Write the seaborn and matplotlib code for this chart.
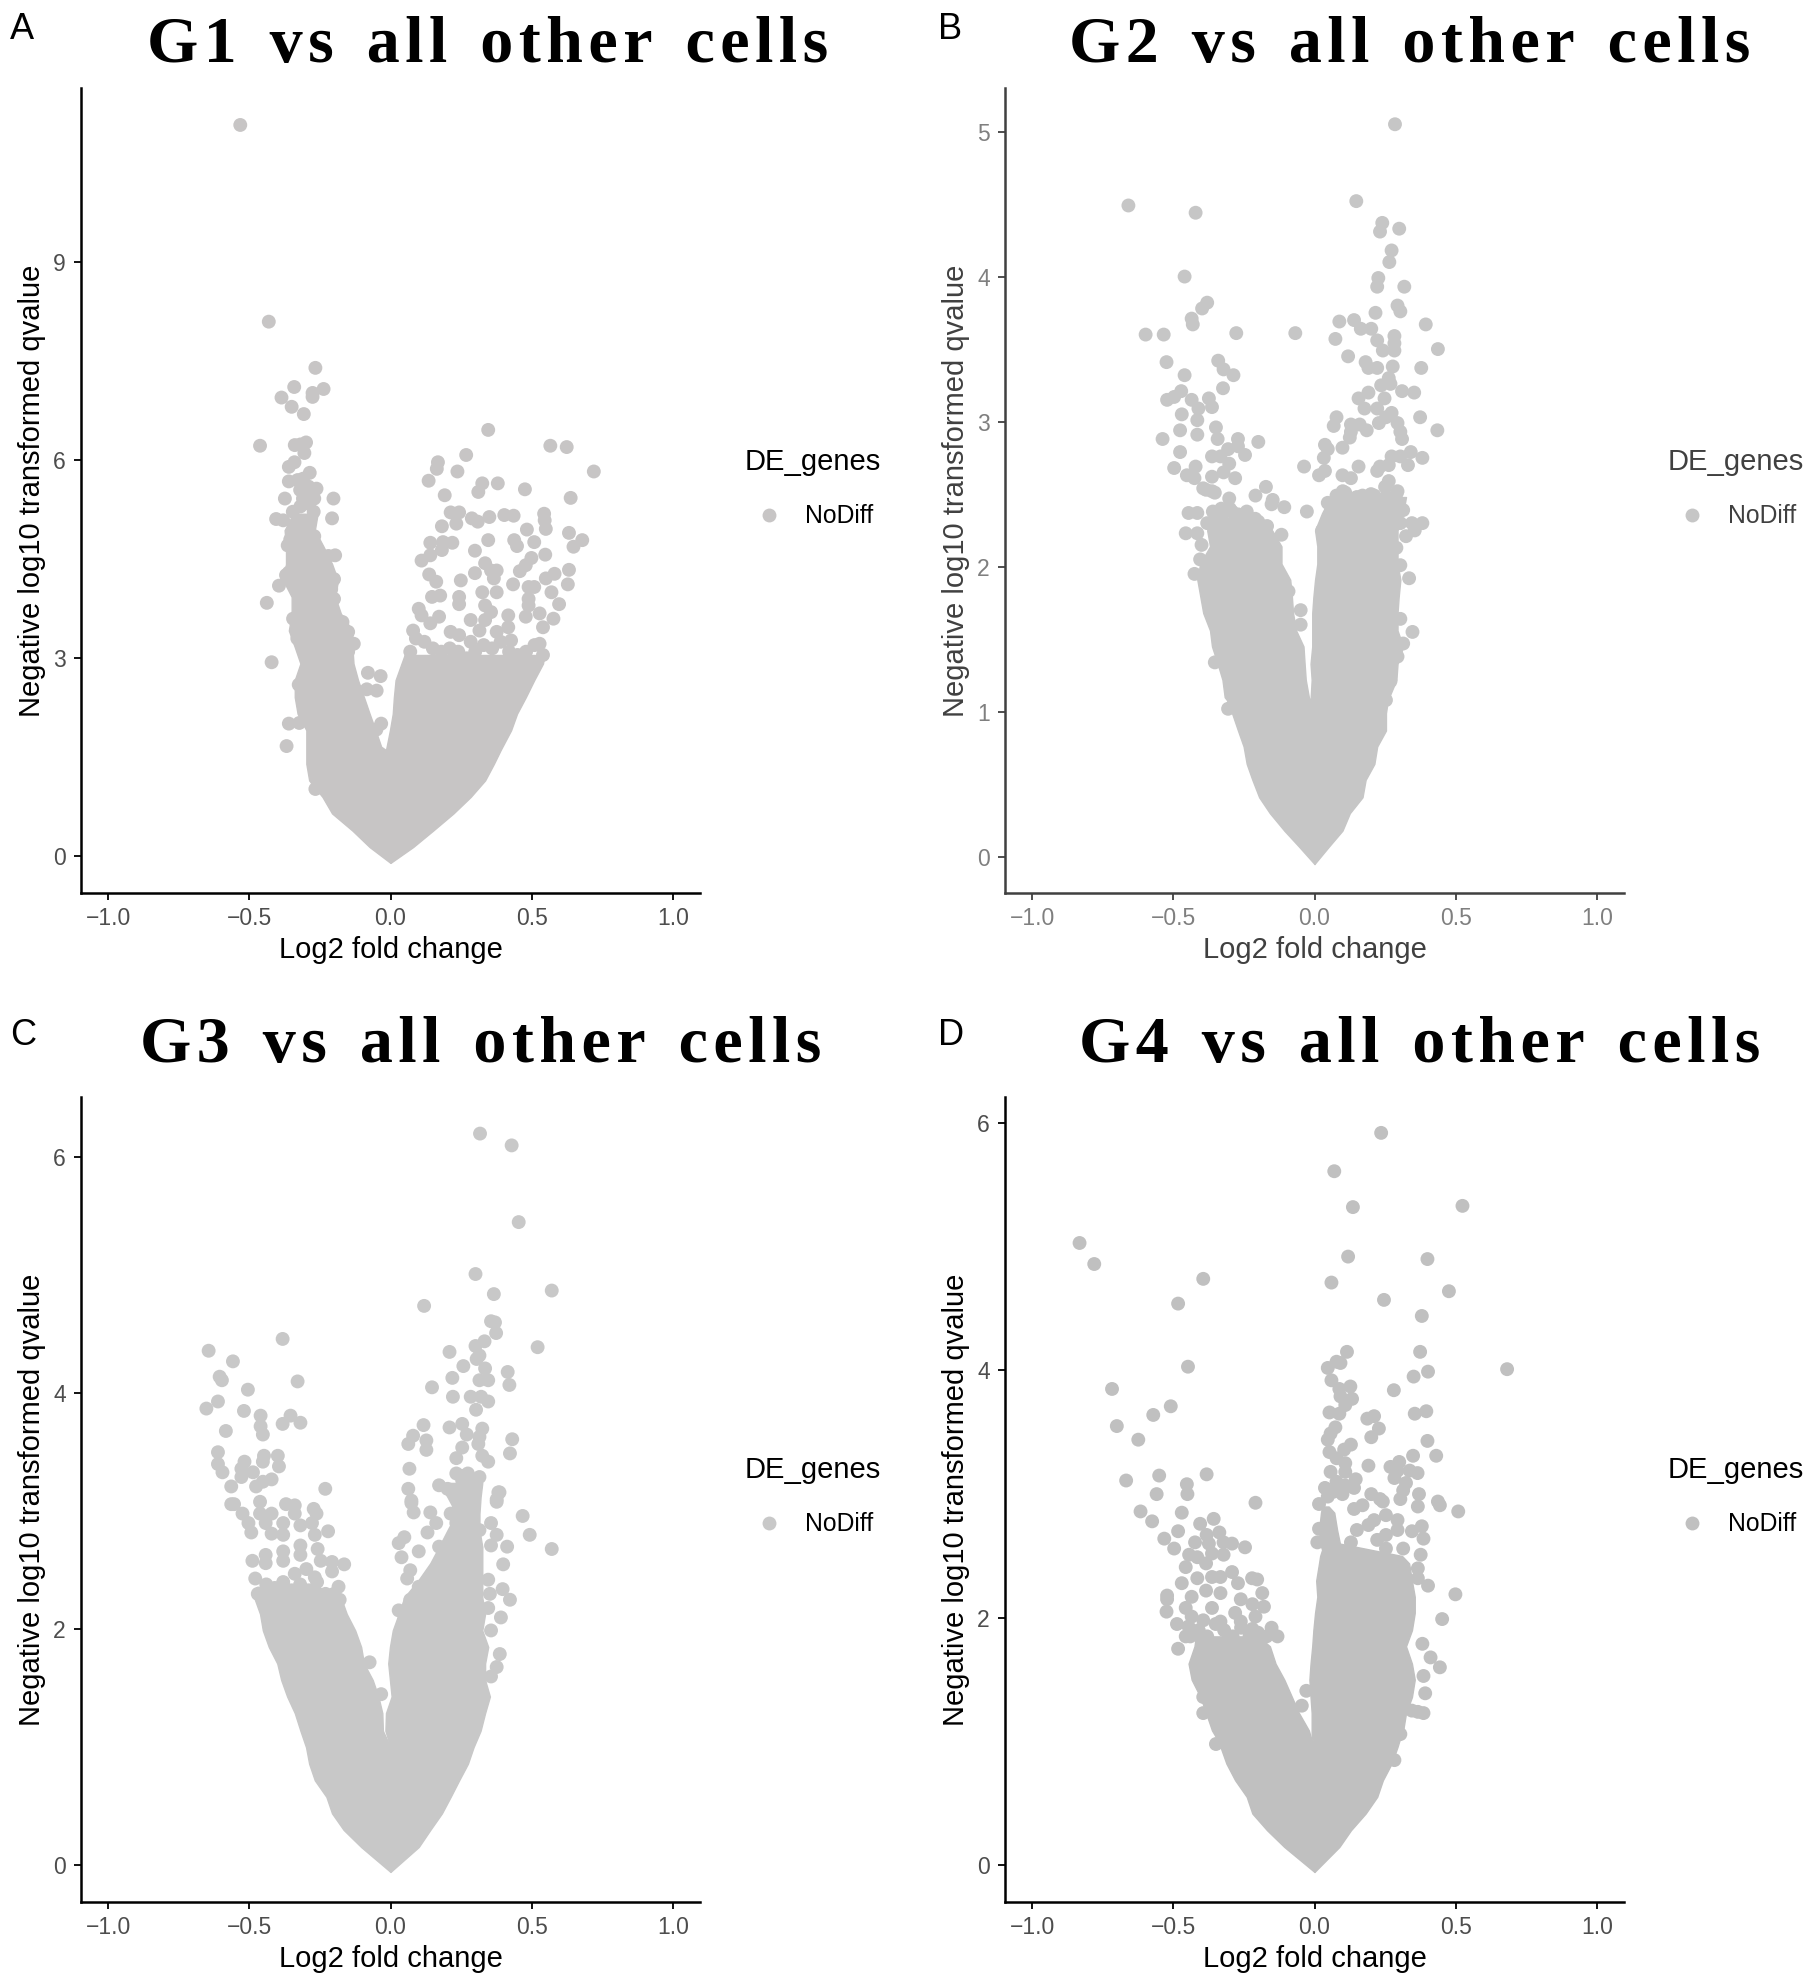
import pandas as pd
import matplotlib
matplotlib.use('Agg')
import matplotlib.pyplot as plt
import seaborn as sns

# scattered genes: (log2 fold change, -log10 qvalue)
g1_points = [(-.532,11.08),(-.431,8.10),(-.266,7.40),(-.341,7.11),(-.237,7.08),(-.386,6.95),(-.276,6.96),(-.276,7.02),(-.35,6.81),(-.307,6.70),
 (.346,6.46),(-.462,6.22),(-.339,6.23),(-.319,6.24),(-.299,6.27),(-.305,6.11),(.566,6.22),(.624,6.20),(.268,6.08),(.168,5.97),(.164,5.87),
 (.237,5.83),(.72,5.83),(.135,5.69),(.325,5.65),(.38,5.65),(.476,5.56),(.311,5.52),(.192,5.47),(.638,5.43),(-.36,5.90),(-.34,5.97),(-.286,5.81),
 (-.36,5.68),(-.329,5.70),(-.31,5.72),(-.262,5.57),(-.202,5.42),(-.374,5.42),(-.3,5.5),(-.28,5.5),(-.32,5.55),(-.29,5.6),(-.31,5.42),(-.27,5.42),
 (-.207,5.12),(-.346,5.22),(-.405,5.11),(-.38,5.09),(-.272,5.22),(-.319,5.3),(-.288,5.34),(-.33,5.05),(-.3,5.0),(-.31,4.9),(-.27,4.85),
 (-.364,4.71),(-.196,4.56),(-.22,4.55),(-.25,4.5),(-.37,4.26),(-.395,4.10),(-.438,3.84),(-.421,2.94),(-.36,2.01),(-.323,2.02),(-.368,1.67),(-.266,1.02),
 (-.08,2.78),(-.035,2.73),(-.084,2.53),(-.049,2.51),(-.033,2.01),(-.05,1.92),(-.2,4.2),(-.21,4.05),(-.2,3.9),(-.23,3.8),(-.17,3.55),(-.15,3.4),(-.13,3.22),(-.15,3.1),
 (.213,5.21),(.243,5.21),(.288,5.12),(.309,5.07),(.35,5.14),(.403,5.17),(.436,5.16),(.544,5.19),(.546,5.09),(.55,4.96),(.483,4.95),(.182,5.0),(.233,5.04),
 (.632,4.90),(.679,4.79),(.648,4.69),(.141,4.75),(.219,4.75),(.186,4.76),(.182,4.64),(.346,4.79),(.438,4.79),(.448,4.70),(.509,4.76),(.299,4.63),(.548,4.57),
 (.499,4.52),(.141,4.56),(.11,4.48),(.479,4.41),(.458,4.32),(.335,4.44),(.299,4.29),(.356,4.33),(.376,4.33),(.366,4.21),(.137,4.27),(.162,4.16),(.249,4.18),
 (.632,4.34),(.581,4.28),(.55,4.21),(.628,4.12),(.434,4.12),(.489,4.08),(.509,4.08),(.57,4.0),(.325,4.0),(.376,4.0),(.147,3.93),(.176,3.95),(.243,3.93),
 (.243,3.82),(.489,3.9),(.489,3.8),(.597,3.82),(.1,3.75),(.335,3.8),(.356,3.7),(.417,3.65),(.479,3.63),(.528,3.68),(.577,3.6),(.54,3.47),(.11,3.65),(.172,3.63),
 (.141,3.53),(.284,3.58),(.335,3.58),(.417,3.47),(.376,3.4),(.315,3.42),(.08,3.42),(.213,3.4),(.243,3.35),(.427,3.27),(.528,3.22),(.284,3.25),
 (.07,3.1),(.09,3.3),(.12,3.25),(.15,3.15),(.18,3.1),(.21,3.15),(.24,3.1),(.27,3.0),(.3,3.1),(.33,3.2),(.36,3.15),(.39,3.25),(.42,3.1),(.45,3.05),(.48,3.1),(.51,3.2),(.54,3.05),
 (-.325,2.6),(-.33,3.3),(-.345,3.6),(-.36,4.3),(-.355,4.8),(-.33,5.0),(-.25,4.3),(-.24,4.0)]

g2_points = [(.285,5.05),(-.659,4.49),(-.421,4.44),(.148,4.52),(.24,4.37),(.232,4.31),(.3,4.33),(.273,4.18),(.265,4.10),(.226,3.99),(.222,3.93),(.318,3.93),
 (-.46,4.0),(-.38,3.82),(-.398,3.78),(-.435,3.71),(-.431,3.67),(.294,3.80),(.304,3.76),(.216,3.75),(.14,3.70),(.088,3.69),(.394,3.67),(.164,3.64),(.201,3.64),
 (-.598,3.60),(-.534,3.60),(-.277,3.61),(-.068,3.61),(.074,3.57),(.283,3.59),(.222,3.56),(.283,3.54),(.242,3.49),(.283,3.49),(.437,3.50),(.119,3.45),(-.524,3.41),
 (-.341,3.42),(-.322,3.36),(-.287,3.32),(-.46,3.32),(.181,3.41),(.191,3.37),(.222,3.37),(.277,3.38),(.378,3.37),(.263,3.30),(.236,3.25),(.269,3.26),(-.324,3.23),
 (.31,3.21),(.191,3.2),(.353,3.2),(-.472,3.21),(-.497,3.17),(-.522,3.15),(-.435,3.15),(-.374,3.16),(-.363,3.10),(-.411,3.09),(-.47,3.05),(-.415,3.01),(.156,3.16),
 (.248,3.16),(.222,3.09),(.177,3.09),(.273,3.06),(.253,3.03),(.078,3.03),(.374,3.03),(.228,2.99),(.068,2.97),(.129,2.98),(.16,2.98),(.294,2.99),(.185,2.94),
 (.129,2.93),(.304,2.93),(.435,2.94),(-.476,2.94),(-.349,2.96),(-.538,2.88),(-.415,2.91),(-.343,2.88),(-.271,2.88),(-.199,2.86),(.31,2.88),(.125,2.89),(.099,2.82),
 (.037,2.84),(.047,2.81),(-.476,2.79),(-.363,2.76),(-.333,2.76),(-.306,2.81),(-.246,2.77),(-.271,2.83),(-.302,2.71),(.273,2.76),(.304,2.76),(.341,2.79),(.382,2.75),
 (.331,2.70),(.033,2.75),(-.037,2.69),(-.497,2.68),(-.421,2.69),(.156,2.69),(.232,2.69),(.263,2.7),(.037,2.66),(.016,2.63),(-.452,2.63),(-.363,2.62),(-.322,2.65),
 (-.281,2.61),(.099,2.63),(.129,2.61),(.222,2.66),(.263,2.59),(-.172,2.55),(-.209,2.49),(.294,2.52),(-.363,2.52),(-.425,2.61),(-.394,2.54),(-.148,2.46),(-.302,2.47),
 (-.384,2.53),(-.353,2.51),(-.152,2.43),(-.107,2.41),(-.446,2.37),(-.027,2.38),(-.415,2.37),(-.24,2.38),(-.292,2.38),(-.456,2.23),(-.199,2.31),(-.168,2.28),(-.117,2.22),
 (.382,2.3),(.345,2.3),(.355,2.25),(.324,2.21),(.29,2.13),(.304,2.01),(.335,1.92),(-.049,1.7),(-.049,1.6),(.347,1.55),(-.092,1.83),(-.353,1.34),(-.306,1.02),
 (.253,1.08),(.269,1.21),(.294,1.38),(.314,1.47),(.304,1.64),(-.425,1.95),(-.405,2.05),(-.363,2.05),(-.4,2.15),(-.415,2.23),(.253,2.48),(.17,2.49),(.212,2.49),
 (.109,2.51),(.078,2.49),(.047,2.44),(.057,2.37),(.314,2.39),(.304,2.3),(.027,2.25),(-.33,2.4),(-.25,2.3),(-.35,2.3),
 (-.36,2.38),(-.33,2.35),(-.3,2.4),(-.27,2.36),(-.21,2.33),(-.38,2.3),(.1,2.52),(.15,2.48),(.2,2.5),(.25,2.55),(.29,2.5)]

g3_points = [(.317,6.2),(.429,6.1),(.454,5.45),(.301,5.01),(.366,4.84),(.571,4.87),(.119,4.74),(.356,4.61),(.37,4.6),(.374,4.51),(.333,4.44),(.521,4.39),(.301,4.40),
 (-.382,4.46),(-.644,4.36),(.209,4.35),(-.558,4.27),(.315,4.32),(.305,4.29),(.258,4.23),(.335,4.21),(-.605,4.14),(-.597,4.11),(.219,4.13),(.415,4.18),(.421,4.07),
 (-.329,4.10),(.315,4.11),(.346,4.11),(.147,4.05),(-.505,4.03),(-.611,3.93),(-.652,3.87),(.221,3.97),(.284,3.97),(.321,3.97),(.346,3.93),(.303,3.86),(-.519,3.85),
 (-.46,3.81),(-.354,3.81),(-.382,3.74),(-.319,3.75),(-.46,3.72),(-.583,3.68),(-.452,3.65),(.117,3.73),(.209,3.71),(.254,3.74),(.27,3.65),(.325,3.7),(.08,3.64),
 (.127,3.6),(.063,3.57),(.127,3.52),(.431,3.61),(.423,3.49),(.315,3.63),(.311,3.57),(.254,3.54),(.233,3.45),(.325,3.47),(.346,3.42),(-.611,3.5),(-.611,3.4),(-.595,3.33),
 (-.517,3.42),(-.448,3.47),(-.399,3.47),(-.395,3.38),(-.452,3.42),(-.528,3.36),(-.487,3.33),(-.528,3.29),(-.421,3.27),(-.452,3.25),(-.476,3.21),(-.564,3.21),(-.231,3.19),
 (.067,3.36),(.063,3.19),(.386,3.16),(.172,3.22),(.202,3.19),(.233,3.32),(.274,3.32),(.315,3.29),(.254,3.26),(.294,3.22),(.376,3.1),(.074,3.09),
 (-.564,3.06),(-.554,3.06),(-.462,3.08),(-.37,3.06),(-.339,3.05),(-.272,3.02),(-.262,2.98),(-.524,2.98),(-.462,2.98),(-.421,2.98),(-.339,2.98),(-.278,2.9),(-.221,2.83),
 (-.268,2.8),(-.503,2.9),(-.442,2.9),(-.38,2.9),(-.319,2.88),(-.493,2.82),(-.38,2.8),(-.421,2.81),(-.319,2.71),(-.258,2.68),(-.38,2.66),(-.442,2.63),(-.489,2.58),
 (-.319,2.63),(-.442,2.56),(-.38,2.58),(-.207,2.57),(-.164,2.55),(-.247,2.58),(-.207,2.49),(-.479,2.43),(-.339,2.47),(-.268,2.44),(-.298,2.51),(-.184,2.36),(-.207,2.27),
 (.468,2.96),(.493,2.8),(.571,2.68),(.382,3.16),(.376,3.08),(.074,3.07),(.082,2.99),(.141,2.99),(.413,2.7),(.356,2.71),(.376,2.8),(.356,2.9),(.399,2.55),(.346,2.42),
 (.397,2.34),(.423,2.25),(.352,2.3),(.346,2.18),(.391,2.1),(.356,1.99),(.387,1.79),(.376,1.68),(.356,1.6),(-.074,1.72),(-.033,1.45),(.029,2.73),(.039,2.61),(.07,2.5),
 (.059,2.43),(.049,2.78),(.1,2.66),(.131,2.82),(.162,2.9),(.029,2.16),(.049,2.08),(.07,2.25),(.1,2.36),(.172,2.7),(.213,2.98),(.254,3.12),(.294,3.12),(.233,2.9),(.315,2.84),
 (-.47,2.3),(-.44,2.38),(-.41,2.35),(-.38,2.4),(-.35,2.33),(-.32,2.38),(-.29,2.33),(-.26,2.4),(-.23,2.3),(-.2,2.3),(-.18,2.25),(.26,3.2),(.3,3.25),(.25,3.3)]

g4_points = [(.236,5.92),(.07,5.61),(.136,5.32),(.524,5.33),(-.832,5.03),(-.78,4.86),(.119,4.92),(.4,4.9),(-.394,4.74),(.06,4.71),(.476,4.64),(-.483,4.54),(.246,4.57),
 (.38,4.44),(.115,4.15),(.374,4.15),(.078,4.07),(.092,4.06),(.047,4.02),(-.448,4.03),(.682,4.01),(.402,3.99),(.351,3.95),(.06,3.92),(-.717,3.85),(.127,3.87),(.088,3.85),
 (.281,3.84),(.092,3.79),(.133,3.77),(.109,3.72),(-.509,3.71),(-.571,3.64),(.053,3.66),(.088,3.65),(.355,3.65),(.396,3.67),(.187,3.61),(.211,3.63),(-.7,3.55),(.074,3.54),
 (.228,3.53),(.201,3.46),(-.624,3.44),(.057,3.49),(.047,3.44),(.4,3.43),(.129,3.4),(.105,3.36),(.053,3.34),(.349,3.31),(.431,3.31),(.078,3.29),(.3,3.26),(.109,3.25),
 (.269,3.22),(.191,3.23),(.294,3.19),(-.382,3.16),(.057,3.18),(.109,3.18),(.337,3.19),(.365,3.17),(-.55,3.15),(.283,3.13),(-.667,3.11),(.146,3.12),(.324,3.09),(-.452,3.08),
 (.037,3.05),(.078,3.1),(.109,3.07),(.14,3.05),(.314,3.03),(.37,3.0),(.201,3.0),(-.559,3.0),(-.45,3.0),(.068,3.02),(.099,3.0),(-.209,2.93),(.232,2.96),(.304,2.96),(.437,2.94),
 (-.616,2.86),(-.47,2.85),(-.575,2.78),(-.357,2.8),(-.405,2.76),(-.483,2.7),(-.337,2.69),(-.532,2.64),(-.423,2.61),(-.382,2.67),(-.374,2.6),(-.292,2.6),(-.246,2.57),
 (-.497,2.56),(-.322,2.61),(-.444,2.51),(-.415,2.49),(-.363,2.52),(-.456,2.41),(-.384,2.44),(-.322,2.51),(-.292,2.37),(-.221,2.32),(-.203,2.31),(-.271,2.28),(-.363,2.33),
 (-.333,2.33),(-.415,2.32),(-.47,2.28),(-.185,2.2),(-.522,2.18),(-.522,2.15),(-.384,2.22),(-.333,2.2),(-.435,2.17),(-.261,2.15),(-.22,2.11),(-.179,2.09),(-.363,2.08),
 (-.456,2.08),(-.524,2.05),(-.281,2.04),(-.209,2.01),(-.435,2.01),(-.394,1.98),(-.487,1.95),(-.333,1.97),(-.261,1.97),(-.152,1.92),(-.131,1.85),(-.22,1.91),(-.446,1.93),
 (-.456,1.85),(-.483,1.75),(.016,2.92),(.047,2.98),(.242,2.94),(.366,2.9),(.444,2.91),(.509,2.86),(.14,2.88),(.17,2.91),(.211,2.79),(.253,2.83),(.294,2.79),(.38,2.74),
 (.345,2.7),(.386,2.64),(.15,2.71),(.191,2.75),(.016,2.72),(.01,2.61),(.253,2.67),(.294,2.71),(.129,2.61),(.222,2.63),(.253,2.56),(.376,2.51),(.129,2.48),(.191,2.49),
 (.314,2.56),(.366,2.4),(.366,2.32),(.402,2.26),(.499,2.19),(.452,1.99),(.382,1.79),(.411,1.68),(.444,1.6),(.386,1.53),(.392,1.39),(.345,1.25),(.386,1.23),(.366,1.24),
 (.304,1.06),(.283,.85),(-.029,1.41),(-.045,1.29),(-.394,1.23),(-.349,.98),(-.394,1.36),
 (-.44,1.85),(-.41,1.9),(-.38,1.85),(-.35,1.95),(-.32,1.9),(-.29,1.85),(-.26,1.92),(-.23,1.85),(-.2,1.88),(-.17,1.85)]

# edges of the solid part of each cloud
g1_left_y = [-.10,.14,.39,.65,.90,1.15,1.40,1.61,1.66,1.91,2.16,2.41,2.67,2.92,3.17,3.42,3.68,3.93,4.18,4.43,4.69,4.94,5.19]
g1_left_outer = [0,-.074,-.135,-.207,-.241,-.288,-.298,-.298,-.298,-.298,-.329,-.339,-.339,-.319,-.339,-.36,-.35,-.35,-.38,-.37,-.37,-.375,-.345]
g1_left_inner = [0,0,0,0,0,0,0,-.016,-.033,-.053,-.074,-.094,-.115,-.131,-.135,-.135,-.176,-.196,-.186,-.207,-.237,-.268,-.258]
g1_right_y = [-.10,.14,.39,.65,.90,1.15,1.40,1.61,1.91,2.16,2.41,2.67,2.92,3.05]
g1_right_outer = [0,.08,.151,.223,.284,.335,.366,.39,.427,.448,.479,.509,.54,.545]
g1_right_inner = [0,0,0,0,0,0,0,-.016,-.002,.008,.012,.018,.039,.05]

g2_left_y = [-.05,.07,.18,.30,.41,.53,.64,.76,.87,.99,1.08,1.10,1.22,1.33,1.45,1.56,1.68,1.79,1.91,2.02,2.14,2.25,2.34]
g2_left_outer = [0,-.055,-.107,-.158,-.196,-.22,-.24,-.251,-.271,-.292,-.31,-.318,-.326,-.343,-.363,-.37,-.394,-.404,-.415,-.405,-.37,-.38,-.36]
g2_left_inner = [0,0,0,0,0,0,0,0,0,0,-.014,-.02,-.031,-.035,-.039,-.065,-.076,-.08,-.086,-.117,-.117,-.15,-.22]
g2_right_y = [-.05,.07,.18,.30,.41,.53,.64,.76,.87,.99,1.08,1.22,1.33,1.45,1.56,1.68,1.79,1.91,2.02,2.14,2.25,2.37,2.48]
g2_right_outer = [0,.051,.099,.125,.17,.181,.212,.222,.253,.253,.26,.29,.294,.314,.294,.294,.298,.304,.294,.294,.294,.314,.324]
g2_right_inner = [0,0,0,0,0,0,0,0,0,0,-.014,-.01,-.014,-.008,-.008,-.008,-.004,.002,.01,.01,.002,.027,.057]

g3_left_y = [-.056,.155,.30,.44,.58,.72,.86,1.0,1.14,1.29,1.43,1.57,1.71,1.85,1.99,2.13,2.27,2.36]
g3_left_outer = [0,-.104,-.166,-.207,-.227,-.268,-.288,-.299,-.319,-.339,-.366,-.387,-.401,-.431,-.452,-.462,-.483,-.472]
g3_left_inner = [0,0,0,0,0,0,0,0,-.027,-.029,-.043,-.063,-.094,-.104,-.125,-.155,-.176,-.258]
g3_right_y = [-.056,.155,.30,.44,.58,.72,.86,1.0,1.14,1.29,1.43,1.57,1.71,1.85,1.99,2.13,2.27,2.42,2.56,2.7,2.84,2.98,3.12,3.24]
g3_right_outer = [0,.1,.141,.182,.213,.243,.274,.294,.319,.335,.352,.335,.335,.346,.325,.335,.325,.325,.325,.325,.315,.315,.319,.325]
g3_right_inner = [0,0,0,0,0,0,0,0,-.018,-.016,.004,-.002,-.008,-.002,.008,.029,.049,.1,.141,.172,.202,.233,.202,.172]

g4_left_y = [-.054,.148,.283,.418,.553,.687,.822,.957,1.04,1.09,1.23,1.36,1.5,1.63,1.77,1.85]
g4_left_outer = [0,-.107,-.168,-.22,-.24,-.281,-.312,-.333,-.35,-.363,-.384,-.404,-.435,-.446,-.425,-.42]
g4_left_inner = [0,0,0,0,0,0,0,0,-.014,-.02,-.055,-.08,-.107,-.138,-.158,-.199]
g4_right_y = [-.054,.148,.283,.418,.553,.687,.822,.957,1.04,1.09,1.23,1.36,1.5,1.63,1.77,1.9,2.04,2.17,2.3,2.44,2.5,2.55,2.6,2.71,2.85,2.9]
g4_right_outer = [0,.088,.129,.181,.222,.242,.273,.294,.305,.314,.324,.345,.355,.345,.324,.345,.355,.355,.345,.335,.31,.2,.09,.08,.07,.05]
g4_right_inner = [0,0,0,0,0,0,0,0,-.01,-.01,-.01,-.014,-.018,-.014,-.008,-.004,.002,.01,.006,.016,.02,.027,.02,.016,.023,.027]

x_ticks = [-1.0, -0.5, 0.0, 0.5, 1.0]
g1_yticks = [0, 3, 6, 9]
g2_yticks = [0, 1, 2, 3, 4, 5]
g3_yticks = [0, 2, 4, 6]
g4_yticks = [0, 2, 4, 6]

W, H = 1813, 1976
sns.set_theme(style='ticks')
plt.rcParams['font.family'] = ['Liberation Sans', 'DejaVu Sans']
fig = plt.figure(figsize=(W / 100, H / 100), dpi=100, facecolor='white')


def panel(x0, y0, ylim, yticks, points, left, right, color, ink, tick_ink, legend_xy):
    ax = fig.add_axes([x0 / W, 1 - (y0 + 805) / H, 619 / W, 805 / H])
    ax.fill_betweenx(left[0], left[1], left[2], color=color, lw=1)
    ax.fill_betweenx(right[0], right[1], right[2], color=color, lw=1)
    df = pd.DataFrame(points, columns=['log2fc', 'qval'])
    df['DE_genes'] = 'NoDiff'
    sns.scatterplot(data=df, x='log2fc', y='qval', hue='DE_genes', palette=[color], s=100,
                    linewidth=0, ax=ax)
    ax.set_xlim(-1.096, 1.096)
    ax.set_ylim(*ylim)
    ax.set_xticks(x_ticks)
    ax.set_xticklabels(['\u22121.0', '\u22120.5', '0.0', '0.5', '1.0'])
    ax.set_yticks(yticks)
    ax.set_xlabel('Log2 fold change', fontsize=21, color=ink)
    ax.set_ylabel('Negative log10 transformed qvalue', fontsize=21, color=ink)
    ax.xaxis.set_label_coords(0.5, -0.054)
    ax.yaxis.set_label_coords(-35 / 619, 0.5)
    ax.tick_params(axis='x', length=5, width=1.3, color=ink, labelcolor=tick_ink, labelsize=16.5, pad=5)
    ax.tick_params(axis='y', length=5, width=1.3, color=ink, labelcolor=tick_ink, labelsize=16.5, pad=6)
    sns.despine(ax=ax)
    for side in ['left', 'bottom']:
        ax.spines[side].set_linewidth(1.8)
        ax.spines[side].set_color(ink)
    sns.move_legend(ax, 'upper left', bbox_to_anchor=(legend_xy[0] / W, 1 - legend_xy[1] / H),
                    bbox_transform=fig.transFigure, frameon=False, title='DE_genes', fontsize=17.8,
                    title_fontsize=21, alignment='left', borderaxespad=0, borderpad=0,
                    handlelength=1.92, handletextpad=0.5, labelspacing=1.15)
    leg = ax.get_legend()
    leg.get_title().set_color(ink)
    for t in leg.get_texts():
        t.set_color(ink)
    return ax


panel(81, 88, (-0.556, 11.64), g1_yticks, g1_points,
      (g1_left_y, g1_left_outer, g1_left_inner), (g1_right_y, g1_right_outer, g1_right_inner),
      '#c7c5c5', 'black', '#4d4d4d', (745, 448))
panel(1005, 88, (-0.25, 5.30), g2_yticks, g2_points,
      (g2_left_y, g2_left_outer, g2_left_inner), (g2_right_y, g2_right_outer, g2_right_inner),
      '#c6c6c6', '#404040', '#7f7f7f', (1668, 448))
panel(81, 1097, (-0.311, 6.51), g3_yticks, g3_points,
      (g3_left_y, g3_left_outer, g3_left_inner), (g3_right_y, g3_right_outer, g3_right_inner),
      '#c8c8c8', 'black', '#4d4d4d', (745, 1456))
panel(1005, 1097, (-0.297, 6.21), g4_yticks, g4_points,
      (g4_left_y, g4_left_outer, g4_left_inner), (g4_right_y, g4_right_outer, g4_right_inner),
      '#c0c0c0', 'black', '#4d4d4d', (1668, 1456))

titles = ['G1 vs all other cells', 'G2 vs all other cells', 'G3 vs all other cells', 'G4 vs all other cells']
title_x = [488, 1410, 481, 1420]
title_y = [62, 62, 1062, 1062]
letters = ['A', 'B', 'C', 'D']
letter_x = [10, 938, 10, 938]
letter_y = [39, 39, 1045, 1045]
for i in range(4):
    # no letter spacing option in matplotlib, so hair spaces go between the characters
    spaced = '\u200a'.join(titles[i]).replace('\u200a \u200a', '\u200a \u200a\u200a')
    fig.text(title_x[i] / W, 1 - title_y[i] / H, spaced, ha='center', va='baseline',
             fontsize=47.5, fontweight='bold', family=['Liberation Serif', 'DejaVu Serif'], color='black')
    fig.text(letter_x[i] / W, 1 - letter_y[i] / H, letters[i], ha='left', va='baseline', fontsize=26, color='black')

fig.savefig('out.png', dpi=100)
